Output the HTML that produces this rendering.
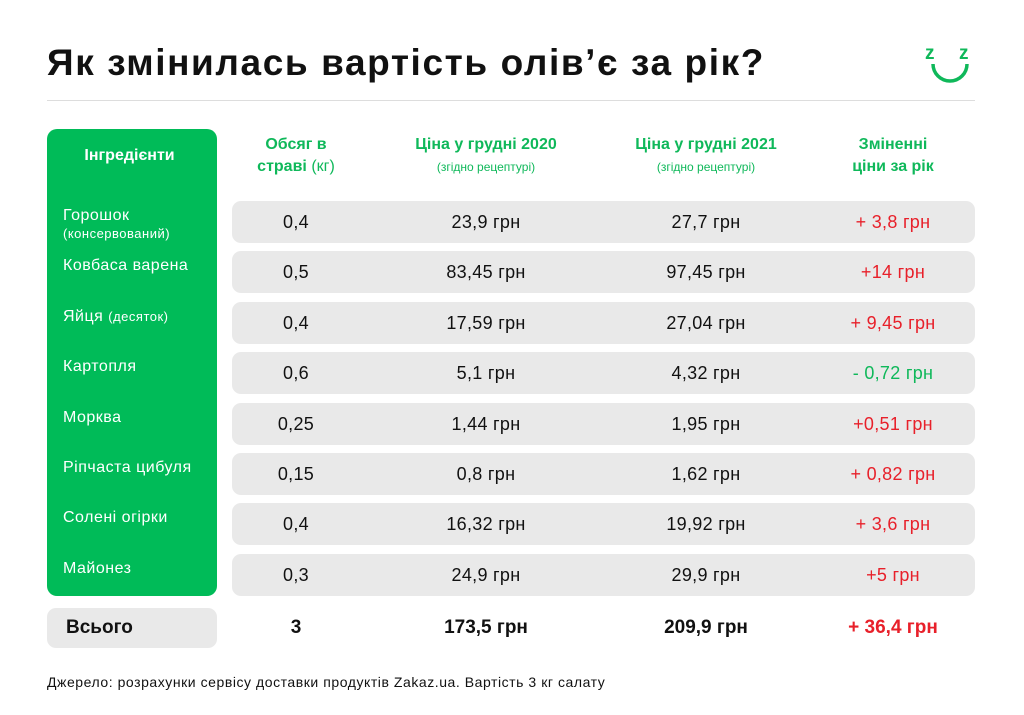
<!DOCTYPE html>
<html><head><meta charset="utf-8"><style>
body{margin:0;width:1024px;height:715px;background:#fff;font-family:"Liberation Sans",sans-serif;position:relative;overflow:hidden;color:#111}
.a{position:absolute}
.row{position:absolute;left:232px;width:743px;height:42px;background:#e9e9e9;border-radius:9px}
.c{position:absolute;text-align:center;font-size:18px;line-height:42px;top:0;letter-spacing:0.3px}
.ing{position:absolute;left:63px;color:#fff;font-size:16px;line-height:18px;letter-spacing:0.5px}
.hd{position:absolute;text-align:center;color:#0fb85a;font-weight:bold;font-size:16px;line-height:22px}
.hd small{font-weight:normal;font-size:12px}
.red{color:#e8202a}.grn{color:#0fb85a}
</style></head><body>
<div class="a" style="left:47px;top:42px;font-size:37px;font-weight:bold;letter-spacing:1.6px">Як змінилась вартість олів’є за рік?</div>
<svg class="a" style="left:920px;top:42px" width="60" height="46" viewBox="0 0 60 46"><text x="5" y="17" font-family="Liberation Sans" font-weight="bold" font-size="19" fill="#0fb85a">z</text><text x="39" y="17" font-family="Liberation Sans" font-weight="bold" font-size="19" fill="#0fb85a">z</text><path d="M13 22 A17 17 0 0 0 47 22" fill="none" stroke="#0fb85a" stroke-width="3.5"/></svg>
<div class="a" style="left:47px;top:100px;width:928px;height:1px;background:#ddd"></div>
<div class="a" style="left:47px;top:129px;width:170px;height:467px;background:#00bb58;border-radius:10px"></div>
<div class="a" style="left:47px;top:147px;width:165px;text-align:center;color:#fff;font-weight:bold;font-size:16px">Інгредієнти</div>
<div class="hd" style="left:236px;top:134px;width:120px">Обсяг в<br>страві <span style="font-weight:normal">(кг)</span></div>
<div class="hd" style="left:386px;top:134px;width:200px">Ціна у грудні 2020<br><small>(згідно рецептурі)</small></div>
<div class="hd" style="left:606px;top:134px;width:200px">Ціна у грудні 2021<br><small>(згідно рецептурі)</small></div>
<div class="hd" style="left:823px;top:134px;width:140px">Зміненні<br>ціни за рік</div>
<div id="rows"></div>
<div class="a" style="left:47px;top:608px;width:170px;height:40px;background:#e9e9e9;border-radius:9px"></div>
<div class="a" style="left:66px;top:608px;line-height:40px;font-weight:bold;font-size:19px">Всього</div>
<div class="a" style="left:246px;width:100px;text-align:center;top:608px;line-height:40px;font-weight:bold;font-size:19px">3</div>
<div class="a" style="left:386px;width:200px;text-align:center;top:608px;line-height:40px;font-weight:bold;font-size:19px">173,5 грн</div>
<div class="a" style="left:606px;width:200px;text-align:center;top:608px;line-height:40px;font-weight:bold;font-size:19px">209,9 грн</div>
<div class="a red" style="left:813px;width:160px;text-align:center;top:608px;line-height:40px;font-weight:bold;font-size:19px">+ 36,4 грн</div>
<div class="a" style="left:47px;top:674px;font-size:14px;letter-spacing:0.55px">Джерело: розрахунки сервісу доставки продуктів Zakaz.ua. Вартість 3 кг салату</div>
<script>
const names=["Горошок<br><span style='font-size:13px'>(консервований)</span>","Ковбаса варена","Яйця <span style='font-size:13px'>(десяток)</span>","Картопля","Морква","Ріпчаста цибуля","Солені огірки","Майонез"];
const volumes=["0,4","0,5","0,4","0,6","0,25","0,15","0,4","0,3"];
const p2020=["23,9 грн","83,45 грн","17,59 грн","5,1 грн","1,44 грн","0,8 грн","16,32 грн","24,9 грн"];
const p2021=["27,7 грн","97,45 грн","27,04 грн","4,32 грн","1,95 грн","1,62 грн","19,92 грн","29,9 грн"];
const changes=["+ 3,8 грн","+14 грн","+ 9,45 грн","- 0,72 грн","+0,51 грн","+ 0,82 грн","+ 3,6 грн","+5 грн"];
const root=document.getElementById('rows');
names.forEach((n,i)=>{
  const top=201+i*50.4;
  const ing=document.createElement('div');ing.className='ing';ing.style.top=(top+6)+'px';ing.innerHTML=n;
  
  
  document.body.appendChild(ing);
  const r=document.createElement('div');r.className='row';r.style.top=top+'px';
  
  
  const cells=[[volumes[i],246,100,''],[p2020[i],386,200,''],[p2021[i],606,200,''],[changes[i],813,160,changes[i].startsWith('-')?'grn':'red']];
  cells.forEach(c=>{const d=document.createElement('div');d.className='c '+c[3];d.style.left=(c[1]-232)+'px';d.style.width=c[2]+'px';d.textContent=c[0];
    
    
    r.appendChild(d);});
  root.appendChild(r);
});
</script>
</body></html>
